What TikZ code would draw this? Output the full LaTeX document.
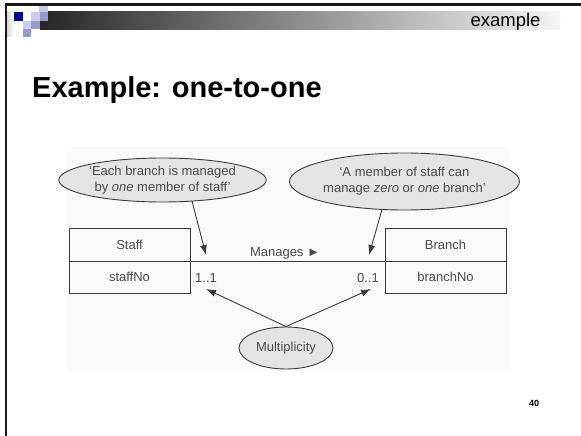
\documentclass[tikz,border=0pt]{standalone}
\usepackage{fontspec}
\setmainfont{Liberation Sans}
\usetikzlibrary{shapes.geometric,arrows.meta}
\definecolor{navyblk}{HTML}{000080}
\definecolor{lavlight}{HTML}{CCCCEE}
\definecolor{lavmid}{HTML}{9999CC}
\definecolor{lavpale}{HTML}{C8C8E0}
\definecolor{inkline}{HTML}{3A3A3A}
\definecolor{inktext}{HTML}{4A4A4A}
\definecolor{bubble}{HTML}{E4E4E4}
\definecolor{panel}{HTML}{FAFAFA}
\begin{document}
\begin{tikzpicture}[x=1pt,y=-1pt,
  difont/.style={font=\fontsize{13}{16}\selectfont, text=inktext},
  entitybox/.style={draw=inkline, line width=0.9pt, difont, minimum width=121pt, minimum height=33pt, inner sep=0pt},
  note/.style={ellipse, draw=inkline, line width=0.9pt, fill=bubble, difont, align=center, inner sep=0pt},
  pointer/.style={draw=inkline, line width=0.9pt, -{Latex[length=10pt,width=7pt]}},
  tile/.style={inner sep=0pt, outer sep=0pt}]
\useasboundingbox (0,0) rectangle (581,436);
\fill[white] (0,0) rectangle (581,436);

% slide header: frame lines, gradient bar and tiles
\shade[left color=gray!35, right color=white] (6,12) rectangle (14,37);
\shade[left color=black!85, right color=gray!8] (40,11.5) rectangle (560,29.5);
\fill[lavpale] (39,4) rectangle (48,12);
\fill[navyblk] (14,12) rectangle (23,21);
\fill[lavlight] (31,12) rectangle (39.5,21);
\fill[lavmid] (39.5,12) rectangle (48,21);
\fill[lavlight] (23,21) rectangle (31,29);
\fill[lavmid] (31,21) rectangle (39.5,29);
\fill[lavmid] (23,29) rectangle (31,37);
\draw[line width=2.6pt, black!90] (4.7,4.5) -- (581,4.5);
\draw[line width=2.4pt, black!90] (6,4.5) -- (6,436);
\node[anchor=base east, font=\fontsize{18.5}{20}\selectfont] (section) at (544,26.5) {example};

% title
\node[anchor=base west, inner sep=0pt, font=\fontsize{29}{32}\selectfont\bfseries] (title) at (32,97) {Example: one-to-one};

% faint panel behind the diagram
\fill[panel] (65,147) rectangle (510,372);

% entities
\node[entitybox] (staff) at (129.5,244.5) {Staff};
\node[entitybox, minimum height=32pt] (staffno) at (129.5,277) {staffNo};
\node[entitybox] (branch) at (445.5,244.5) {Branch};
\node[entitybox, minimum height=32pt] (branchno) at (445.5,277) {branchNo};

% relationship
\draw[draw=inkline, line width=0.9pt] (staff.south east) -- (branch.south west);
\node[difont, anchor=base, inner sep=0pt] (rel) at (285,256) {Manages ►};
\node[difont, anchor=base west, inner sep=0pt] (m1) at (195,282) {1..1};
\node[difont, anchor=base east, inner sep=0pt] (m2) at (379,282) {0..1};

% notes
\node[note, minimum width=172pt, minimum height=44pt] (n1) at (162.5,180) {‘Each branch is managed\\by \textit{one} member of staff’};
\node[note, minimum width=169pt, minimum height=57pt] (n2) at (404.5,181.5) {‘A member of staff can\\manage \textit{zero} or \textit{one} branch’};
\node[note, minimum width=94pt, minimum height=42pt] (mult) at (286,348) {Multiplicity};

% arrow targets near the multiplicity labels
\coordinate (n1s) at (192,201);
\coordinate (n2s) at (382,209.5);
\coordinate (m1top) at (206,255);
\coordinate (m2top) at (369,255);
\coordinate (m1bot) at (206,289);
\coordinate (m2bot) at (371,289);

\draw[pointer] (n1s) -- (m1top);
\draw[pointer] (n2s) -- (m2top);
\draw[pointer] (mult.north) -- (m1bot);
\draw[pointer] (mult.north) -- (m2bot);

% page number
\node[font=\fontsize{9}{10}\selectfont\bfseries] (page) at (534,403) {40};
\end{tikzpicture}
\end{document}
